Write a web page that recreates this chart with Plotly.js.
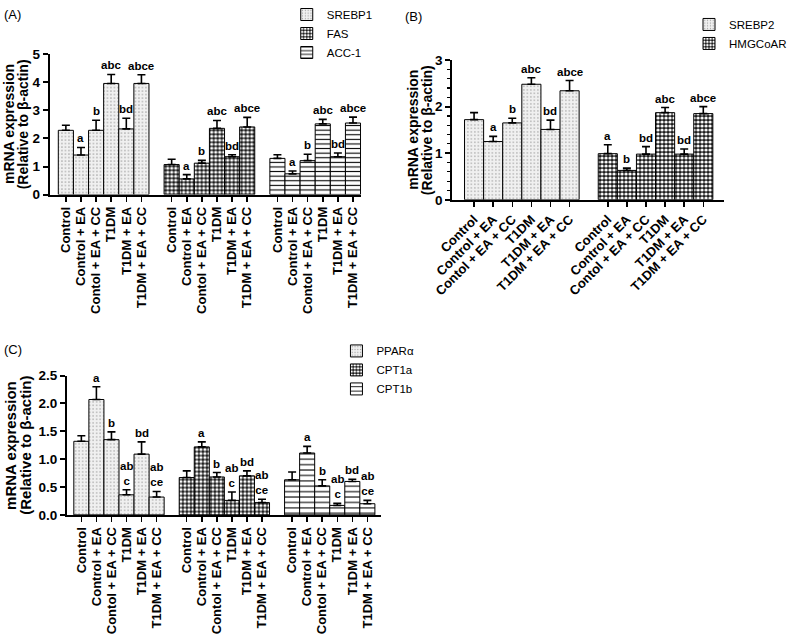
<!DOCTYPE html>
<html><head><meta charset="utf-8">
<script src="https://cdn.plot.ly/plotly-3.0.1.min.js"></script>
<style>html,body{margin:0;padding:0;background:#fff}#chart{width:792px;height:638px}</style>
</head><body><div id="chart"></div>
<script>
// ---- data ----
const groups = ["Control", "Control + EA", "Contol + EA + CC", "T1DM", "T1DM + EA", "T1DM + EA + CC"];

// Panel A
const srebp1 = [2.29, 1.41, 2.29, 3.96, 2.34, 3.96];
const srebp1Err = [0.18, 0.27, 0.36, 0.32, 0.38, 0.31];
const srebp1Sig = ["", "a", "b", "abc", "bd", "abce"];
const fas = [1.07, 0.56, 1.12, 2.36, 1.35, 2.41];
const fasErr = [0.19, 0.15, 0.10, 0.28, 0.07, 0.34];
const fasSig = ["", "a", "b", "abc", "bd", "abce"];
const acc1 = [1.29, 0.74, 1.21, 2.52, 1.35, 2.55];
const acc1Err = [0.13, 0.10, 0.23, 0.16, 0.13, 0.21];
const acc1Sig = ["", "a", "b", "abc", "bd", "abce"];

// Panel B
const srebp2 = [1.72, 1.25, 1.65, 2.48, 1.51, 2.34];
const srebp2Err = [0.15, 0.11, 0.10, 0.14, 0.20, 0.22];
const srebp2Sig = ["", "a", "b", "abc", "bd", "abce"];
const hmgcoar = [0.99, 0.63, 0.98, 1.87, 0.98, 1.85];
const hmgcoarErr = [0.19, 0.05, 0.16, 0.11, 0.11, 0.15];
const hmgcoarSig = ["a", "b", "bd", "abc", "bd", "abce"];

// Panel C
const ppara = [1.32, 2.07, 1.35, 0.36, 1.09, 0.32];
const pparaErr = [0.10, 0.23, 0.14, 0.09, 0.22, 0.10];
const pparaSig = ["", "a", "b", "ab<br>c", "bd", "ab<br>ce"];
const cpt1a = [0.67, 1.22, 0.68, 0.26, 0.70, 0.22];
const cpt1aErr = [0.12, 0.09, 0.08, 0.15, 0.09, 0.06];
const cpt1aSig = ["", "a", "b", "ab<br>c", "bd", "ab<br>ce"];
const cpt1b = [0.63, 1.11, 0.52, 0.17, 0.60, 0.20];
const cpt1bErr = [0.14, 0.12, 0.11, 0.04, 0.04, 0.06];
const cpt1bSig = ["", "a", "b", "ab<br>c", "bd", "ab<br>ce"];

// ---- styles ----
const W = 792, H = 638;
const FONT = "Liberation Sans, Arial, Helvetica, sans-serif";
const PAT_DOTS = {shape: ".", fgcolor: "#9a9a9a", bgcolor: "#f0f0f0", size: 3.5, solidity: 0.14, fillmode: "replace"};
const PAT_CHECK = {shape: ".", fgcolor: "#ffffff", bgcolor: "#1a1a1a", size: 4, solidity: 0.5, fillmode: "replace"};
const PAT_LINES = {shape: "-", fgcolor: "#000000", bgcolor: "#ffffff", size: 4.6, solidity: 0.24, fillmode: "replace"};
const PAT_LINES_C = {shape: "-", fgcolor: "#000000", bgcolor: "#ffffff", size: 5.4, solidity: 0.2, fillmode: "replace"};

const traces = [];
const annotations = [];

function positions(offset) { return groups.map((_, i) => offset + i); }

function addSeries(name, vals, errs, sigs, offset, pattern, ax, legendId, sigFont) {
  const xs = positions(offset);
  const sfx = ax === 1 ? "" : String(ax);
  traces.push({
    type: "bar", name: name, x: xs, y: vals, width: 1,
    xaxis: "x" + sfx, yaxis: "y" + sfx,
    legend: legendId,
    marker: {color: pattern.bgcolor, pattern: pattern, line: {color: "#000", width: 1}},
    error_y: {type: "data", symmetric: false, array: errs, arrayminus: errs.map(() => 0),
              color: "#000", thickness: 1.6, width: 4},
    hoverinfo: "skip"
  });
  xs.forEach((x, i) => {
    if (!sigs[i]) return;
    annotations.push({
      xref: "x" + sfx, yref: "y" + sfx,
      x: x, y: vals[i] + errs[i], yanchor: "bottom", yshift: 1,
      text: sigs[i], showarrow: false,
      font: {family: FONT, size: sigFont, color: "#000", weight: 700}
    });
  });
}

addSeries("SREBP1", srebp1, srebp1Err, srebp1Sig, 0, PAT_DOTS, 1, "legend", 11.5);
addSeries("FAS", fas, fasErr, fasSig, 7, PAT_CHECK, 1, "legend", 11.5);
addSeries("ACC-1", acc1, acc1Err, acc1Sig, 14, PAT_LINES, 1, "legend", 11.5);
addSeries("SREBP2", srebp2, srebp2Err, srebp2Sig, 0, PAT_DOTS, 2, "legend2", 11.5);
addSeries("HMGCoAR", hmgcoar, hmgcoarErr, hmgcoarSig, 7, PAT_CHECK, 2, "legend2", 11.5);
addSeries("PPARα", ppara, pparaErr, pparaSig, 0, PAT_DOTS, 3, "legend3", 11.5);
addSeries("CPT1a", cpt1a, cpt1aErr, cpt1aSig, 7, PAT_CHECK, 3, "legend3", 11.5);
addSeries("CPT1b", cpt1b, cpt1bErr, cpt1bSig, 14, PAT_LINES_C, 3, "legend3", 11.5);

const tickPosA = positions(0).concat(positions(7), positions(14));
const tickTextA = groups.concat(groups, groups);
const tickPosB = positions(0).concat(positions(7));
const tickTextB = groups.concat(groups);

function dX(a, b) { return [a / W, b / W]; }
function dY(top, bottom) { return [1 - bottom / H, 1 - top / H]; }

function xAxis(domain, range, tickvals, ticktext, angle, anchor) {
  return {
    domain: domain, range: range, anchor: anchor, fixedrange: true,
    tickvals: tickvals, ticktext: ticktext, tickangle: angle,
    showline: true, linecolor: "#000", linewidth: 2,
    ticks: "outside", ticklen: 5, tickwidth: 1.5, tickcolor: "#000",
    showgrid: false, zeroline: false,
    tickfont: {family: FONT, size: 13, color: "#000", weight: 700}
  };
}
function yAxis(domain, range, dtick, fmt, anchor, fontSize, minor) {
  const a = {
    domain: domain, range: range, anchor: anchor, fixedrange: true,
    dtick: dtick, tick0: 0, tickformat: fmt,
    showline: true, linecolor: "#000", linewidth: 2,
    ticks: "outside", ticklen: 5, tickwidth: 2, tickcolor: "#000",
    showgrid: false, zeroline: false,
    tickfont: {family: FONT, size: fontSize, color: "#000", weight: 700}
  };
  if (minor) a.minor = {dtick: 0.2, ticks: "outside", ticklen: 3, tickwidth: 1.2, tickcolor: "#000", showgrid: false};
  return a;
}

function paperText(text, xpx, ypx, size, bold, angle) {
  return {
    xref: "paper", yref: "paper", x: xpx / W, y: 1 - ypx / H,
    xanchor: angle ? "center" : "left", yanchor: angle ? "middle" : "top",
    text: text, showarrow: false, textangle: angle || 0,
    font: {family: FONT, size: size, color: "#000", weight: bold ? 700 : 400}
  };
}

annotations.push(paperText("(A)", 2, 2, 13, false));
annotations.push(paperText("(B)", 422, 4, 13, false));
annotations.push(paperText("(C)", 2, 339, 13, false));
const ytitle1 = "mRNA expression", ytitle2 = "(Relative to β-actin)";
annotations.push(paperText(ytitle1, 10, 122, 14, true, -90));
annotations.push(paperText(ytitle2, 25, 122, 14, true, -90));
annotations.push(paperText(ytitle1, 432, 127.5, 14, true, -90));
annotations.push(paperText(ytitle2, 447, 127.5, 14, true, -90));
annotations.push(paperText(ytitle1, 11.5, 444, 15, true, -90));
annotations.push(paperText(ytitle2, 27, 444, 15, true, -90));

function legendCfg(xpx, ypx) {
  return {
    x: xpx / W, y: 1 - ypx / H, xanchor: "left", yanchor: "top",
    bgcolor: "rgba(0,0,0,0)", borderwidth: 0, tracegroupgap: 0,
    font: {family: FONT, size: 11.5, color: "#000"}, itemclick: false, itemdoubleclick: false
  };
}

const layout = {
  width: W, height: H, margin: {l: 0, r: 0, t: 0, b: 0},
  paper_bgcolor: "#fff", plot_bgcolor: "rgba(0,0,0,0)",
  font: {family: FONT, color: "#000"},
  barmode: "overlay", showlegend: true,
  xaxis: xAxis(dX(52, 378), [-1.07, 19.55], tickPosA, tickTextA, -90, "y"),
  yaxis: yAxis(dY(51.5, 192.5), [0, 5], 1, "d", "x", 13.5, false),
  xaxis2: xAxis(dX(473, 757), [-1.15, 13.06], tickPosB, tickTextB, -45, "y2"),
  yaxis2: yAxis(dY(57.3, 197.7), [0, 3], 1, "d", "x2", 13.5, true),
  xaxis3: xAxis(dX(70, 399), [-0.96, 19.93], tickPosA, tickTextA, -90, "y3"),
  yaxis3: yAxis(dY(374.3, 514.3), [0, 2.5], 0.5, ".1f", "x3", 13.5, false),
  legend: legendCfg(300, -3),
  legend2: legendCfg(721, 7),
  legend3: legendCfg(352, 335),
  annotations: annotations
};

Plotly.newPlot("chart", traces, layout, {displayModeBar: false, staticPlot: true});
</script>
</body></html>
